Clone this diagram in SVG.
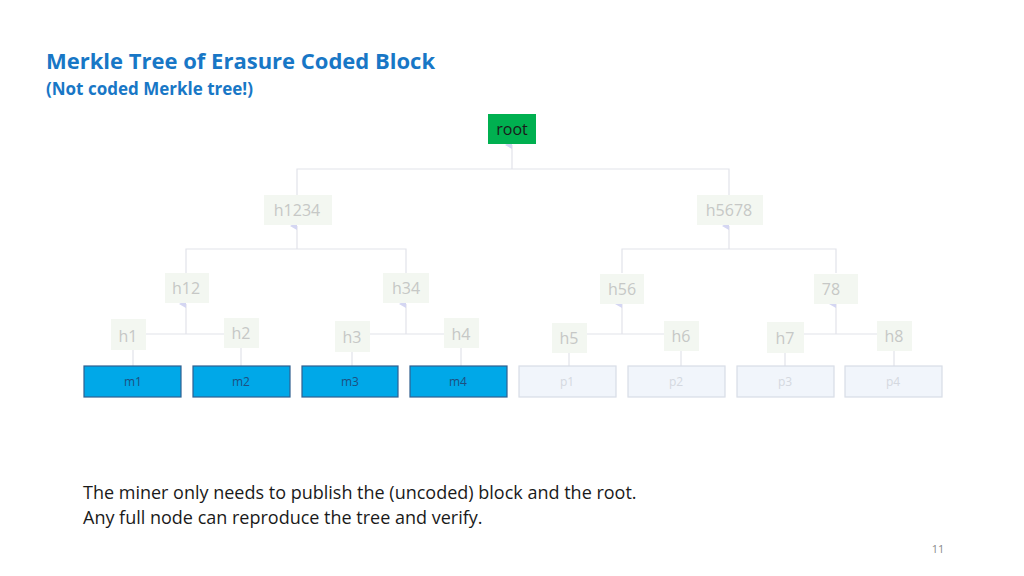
<svg xmlns="http://www.w3.org/2000/svg" width="1024" height="576" viewBox="0 0 1024 576">
<defs>
<marker id="ar" markerWidth="8" markerHeight="8" refX="4" refY="7" orient="auto-start-reverse" markerUnits="userSpaceOnUse"><path d="M0,7 L4,0 L8,7 Z" fill="#d4d6f2"/></marker>
</defs>
<style>
text{font-family:"Open Sans","Liberation Sans",sans-serif}
.h rect{fill:#f3f7f1}
.h text{fill:#c6c8c6;font-size:16px;text-anchor:middle}
.m rect{fill:#00a8e8;stroke:#2f5f8f;stroke-width:1.2}
.m text{fill:#1f4f80;font-size:12px;text-anchor:middle}
.p rect{fill:#f1f5fb;stroke:#d8dde6;stroke-width:1.2}
.p text{fill:#d4d8e0;font-size:12px;text-anchor:middle}
.c path{fill:none;stroke:#e2e3ea;stroke-width:1.2}
.c .a{marker-end:url(#ar)}
</style>
<rect width="1024" height="576" fill="#fff"/>
<text x="46" y="69" font-family="Lato,'Liberation Sans',sans-serif" font-weight="bold" font-size="22" fill="#1877c6">Merkle Tree of Erasure Coded Block</text>
<text x="46" y="95" font-family="Lato,'Liberation Sans',sans-serif" font-weight="bold" font-size="17" fill="#1877c6">(Not coded Merkle tree!)</text>
<g class="c">
<path d="M133,366V350M241,366V348M352,366V352M461,366V348M569,366V352M681,366V350M785,366V352M894,366V350"/>
<path d="M145,334H224M336,334H444M586,334H664M802,334H877"/>
<path class="a" d="M186,334V304"/>
<path class="a" d="M406,334V304"/>
<path class="a" d="M622,334V304"/>
<path class="a" d="M836,334V304"/>
<path d="M186,273V249H406V273M622,273V249H836V273"/>
<path class="a" d="M297,249V226"/>
<path class="a" d="M729,249V226"/>
<path d="M297,195V169H729V195"/>
<path class="a" d="M512,169V145"/>
</g>
<g id="root"><rect x="488" y="114" width="48" height="30" fill="#00b050"/><text x="512" y="135" font-size="16" text-anchor="middle" fill="#1a1a1a">root</text></g>
<g id="h1234" class="h"><rect x="264" y="195" width="68" height="30"/><text x="297" y="216">h1234</text></g>
<g id="h5678" class="h"><rect x="697" y="195" width="66" height="30"/><text x="729" y="216">h5678</text></g>
<g id="h12" class="h"><rect x="165" y="273" width="44" height="30"/><text x="186" y="294">h12</text></g>
<g id="h34" class="h"><rect x="383" y="273" width="46" height="30"/><text x="406" y="294">h34</text></g>
<g id="h56" class="h"><rect x="600" y="274" width="44" height="30"/><text x="622" y="295">h56</text></g>
<g id="h78" class="h"><rect x="814" y="274" width="44" height="30"/><text x="831" y="295">78</text></g>
<g id="h1" class="h"><rect x="111" y="319" width="35" height="31"/><text x="128" y="342">h1</text></g>
<g id="h2" class="h"><rect x="224" y="318" width="35" height="30"/><text x="241" y="339">h2</text></g>
<g id="h3" class="h"><rect x="335" y="321" width="35" height="31"/><text x="352" y="343">h3</text></g>
<g id="h4" class="h"><rect x="444" y="318" width="35" height="30"/><text x="461" y="340">h4</text></g>
<g id="h5" class="h"><rect x="552" y="323" width="35" height="30"/><text x="569" y="344">h5</text></g>
<g id="h6" class="h"><rect x="664" y="321" width="35" height="30"/><text x="681" y="342">h6</text></g>
<g id="h7" class="h"><rect x="767" y="322" width="37" height="31"/><text x="785" y="344">h7</text></g>
<g id="h8" class="h"><rect x="877" y="321" width="35" height="30"/><text x="894" y="342">h8</text></g>
<g id="m1" class="m"><rect x="84" y="366" width="97" height="31"/><text x="133" y="386">m1</text></g>
<g id="m2" class="m"><rect x="193" y="366" width="97" height="31"/><text x="241" y="386">m2</text></g>
<g id="m3" class="m"><rect x="302" y="366" width="96" height="31"/><text x="350" y="386">m3</text></g>
<g id="m4" class="m"><rect x="410" y="366" width="97" height="31"/><text x="458" y="386">m4</text></g>
<g id="p1" class="p"><rect x="519" y="366" width="97" height="31"/><text x="567" y="386">p1</text></g>
<g id="p2" class="p"><rect x="628" y="366" width="97" height="31"/><text x="676" y="386">p2</text></g>
<g id="p3" class="p"><rect x="737" y="366" width="97" height="31"/><text x="785" y="386">p3</text></g>
<g id="p4" class="p"><rect x="845" y="366" width="97" height="31"/><text x="893" y="386">p4</text></g>
<text x="83" y="499" font-family="Lato,'Liberation Sans',sans-serif" font-size="18" fill="#1a1a1a">The miner only needs to publish the (uncoded) block and the root.</text>
<text x="83" y="524" font-family="Lato,'Liberation Sans',sans-serif" font-size="18" fill="#1a1a1a">Any full node can reproduce the tree and verify.</text>
<text x="938" y="553" font-size="11" text-anchor="middle" fill="#8a8a8a">11</text>
</svg>
